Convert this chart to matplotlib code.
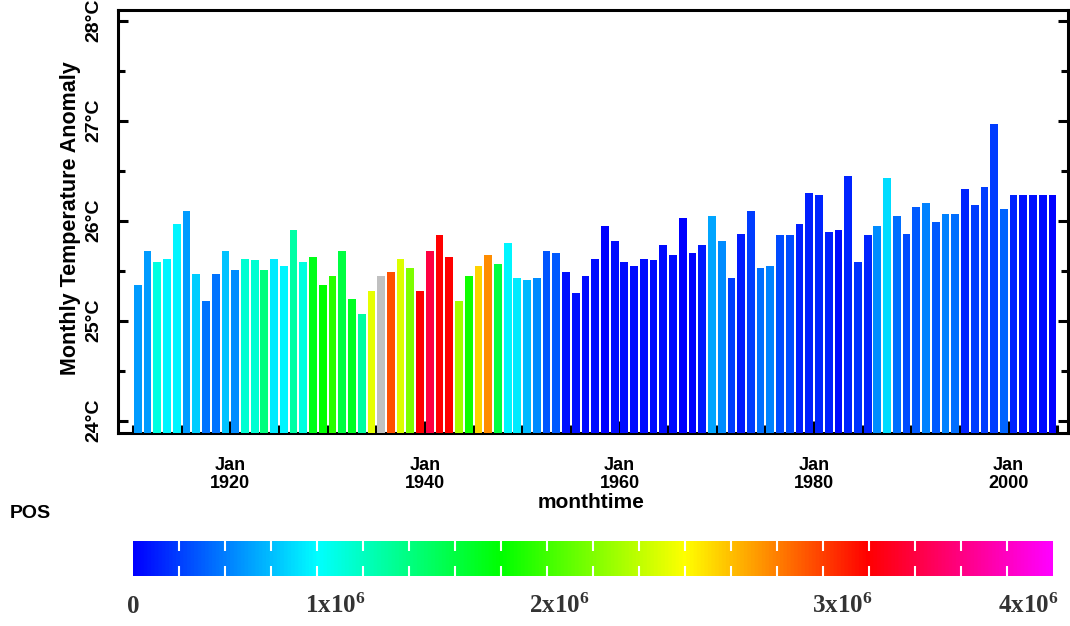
import numpy as np
import matplotlib
matplotlib.use('Agg')
import matplotlib.pyplot as plt
from matplotlib.colors import LinearSegmentedColormap

plt.rcParams['font.family'] = ['Liberation Sans', 'DejaVu Sans']
plt.rcParams['mathtext.fontset'] = 'custom'
plt.rcParams['mathtext.rm'] = 'Liberation Serif'
plt.rcParams['mathtext.bf'] = 'Liberation Serif:bold'

# one bar per year, drawn at mid-year
years = np.arange(1910, 2005)

temps = [25.36, 25.70, 25.59, 25.62, 25.97, 26.10, 25.47, 25.20, 25.47, 25.70,
         25.51, 25.62, 25.61, 25.51, 25.62, 25.55, 25.91, 25.59, 25.64, 25.36,
         25.45, 25.70, 25.22, 25.07, 25.30, 25.45, 25.49, 25.62, 25.53, 25.30,
         25.70, 25.86, 25.64, 25.20, 25.45, 25.55, 25.66, 25.57, 25.78, 25.43,
         25.41, 25.43, 25.70, 25.68, 25.49, 25.28, 25.45, 25.62, 25.95, 25.80,
         25.59, 25.55, 25.62, 25.61, 25.76, 25.66, 26.03, 25.68, 25.76, 26.05,
         25.80, 25.43, 25.87, 26.10, 25.53, 25.55, 25.86, 25.86, 25.97, 26.28,
         26.26, 25.89, 25.91, 26.45, 25.59, 25.86, 25.95, 26.43, 26.05, 25.87,
         26.14, 26.18, 25.99, 26.07, 26.07, 26.32, 26.16, 26.34, 26.97, 26.12,
         26.26, 26.26, 26.26, 26.26, 26.26]

# POS in units of 1e6 (nan = missing, drawn grey)
pos = [0.56, 0.56, 1.02, 0.88, 0.88, 0.56, 0.74, 0.42, 0.42, 0.70,
       0.51, 1.06, 1.06, 1.34, 0.84, 0.88, 1.21, 1.02, 1.67, 1.75,
       1.87, 1.54, 1.63, 1.22, 2.38, np.nan, 2.89, 2.35, 2.12, 3.14,
       3.39, 3.14, 3.14, 2.22, 1.79, 2.56, 2.74, 1.54, 0.88, 0.84,
       0.67, 0.51, 0.31, 0.33, 0.06, 0.06, 0.05, 0.05, 0.00, 0.05,
       0.05, 0.05, 0.05, 0.05, 0.05, 0.05, 0.00, 0.00, 0.09, 0.60,
       0.51, 0.23, 0.09, 0.23, 0.40, 0.47, 0.28, 0.28, 0.12, 0.12,
       0.14, 0.12, 0.05, 0.14, 0.19, 0.14, 0.51, 0.79, 0.40, 0.28,
       0.33, 0.47, 0.33, 0.47, 0.40, 0.14, 0.23, 0.23, 0.23, 0.37,
       0.14, 0.07, 0.07, 0.05, 0.00]

# colour key: values and where they sit along the key (0..1)
key_values = [0, 1, 2, 3, 4, 4.13]
key_frac = [0.0, 0.22, 0.463, 0.771, 0.973, 1.0]
key_labels = [r'$\mathbf{0}$', r'$\mathbf{1x10^{6}}$', r'$\mathbf{2x10^{6}}$',
              r'$\mathbf{3x10^{6}}$', r'$\mathbf{4x10^{6}}$']

year_major = [1920, 1940, 1960, 1980, 2000]
temp_major = [24, 25, 26, 27, 28]

ymin, ymax = 23.877, 28.107

cmap = LinearSegmentedColormap.from_list(
    'ferret', ['#0000ff', '#00ffff', '#00ff00', '#ffff00', '#ff0000', '#ff00ff'])


def pos_to_frac(v):
    return np.interp(v, key_values, key_frac)


colors = []
for p in pos:
    if np.isnan(p):
        colors.append('#c0c0c0')
    else:
        colors.append(cmap(pos_to_frac(p)))

fig = plt.figure(figsize=(10.7, 6.26), dpi=100)
ax = fig.add_axes([0.1103, 0.3083, 0.8879, 0.6757])

ax.bar(years + 0.5, np.array(temps) - ymin, bottom=ymin, width=0.8,
       color=colors, zorder=3)
ax.set_xlim(1908.46, 2006.1)
ax.set_ylim(ymin, ymax)

for s in ax.spines.values():
    s.set_linewidth(2.2)

ax.set_yticks(temp_major)
ax.set_yticklabels(['%d°C' % t for t in temp_major], rotation=90, va='center',
                   fontweight='bold')
ax.set_yticks(np.arange(24.5, 28, 1.0), minor=True)
ax.tick_params(axis='y', which='both', direction='in', left=True, right=True,
               width=2.2, labelsize=14, pad=11)
ax.tick_params(axis='y', which='major', length=7.5)
ax.tick_params(axis='y', which='minor', length=5)

ax.set_xticks(year_major)
ax.set_xticklabels(['Jan\n%d' % y for y in year_major], linespacing=1.1,
                   fontweight='bold')
ax.set_xticks(np.arange(1910, 2006, 5), minor=True)
ax.tick_params(axis='x', which='both', direction='in', bottom=True, top=False,
               width=2.2, labelsize=13, pad=17)
ax.tick_params(axis='x', which='major', length=9)
ax.tick_params(axis='x', which='minor', length=6)

fig.text(71 / 1070, 1 - 218 / 626, 'Monthly Temperature Anomaly', rotation=90,
         ha='center', va='center', fontsize=15.5, fontweight='bold')
fig.text(591 / 1070, 1 - 503 / 626, 'monthtime', ha='center', va='center',
         fontsize=15, fontweight='bold')
fig.text(10 / 1070, 1 - 514 / 626, 'POS', ha='left', va='center', fontsize=14,
         fontweight='bold')

# colour key
cax = fig.add_axes([0.1243, 0.0799, 0.8598, 0.0559])
cax.imshow(np.linspace(0, 1, 512)[None, :], cmap=cmap, aspect='auto',
           extent=[0, 1, 0, 1])
cax.set_xlim(0, 1)
cax.set_ylim(0, 1)
cax.set_yticks([])
for s in cax.spines.values():
    s.set_visible(False)
cax.set_xticks(key_frac[:5])
cax.set_xticklabels(key_labels, fontsize=18, color='#333333')
cax.set_xticks(np.linspace(0, 1, 21)[1:-1], minor=True)
cax.tick_params(axis='x', which='major', length=0, pad=13)
cax.tick_params(axis='x', which='minor', direction='in', top=True, bottom=True,
                color='white', width=1.5, length=7)

fig.savefig('out.png', dpi=100)
